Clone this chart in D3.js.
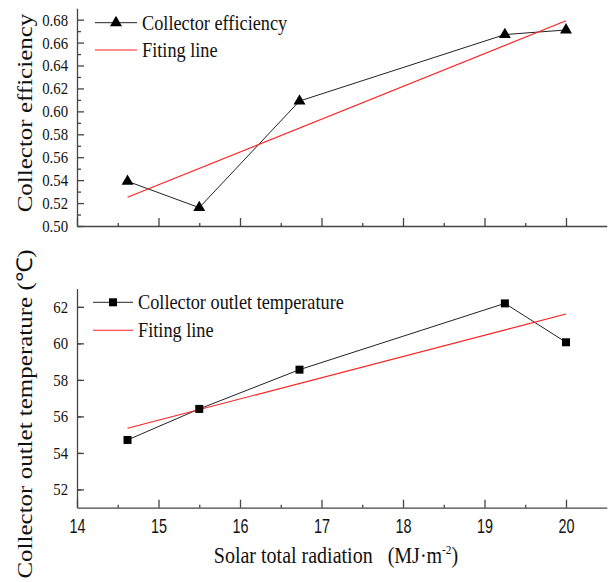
<!DOCTYPE html>
<html>
<head>
<meta charset="utf-8">
<script src="https://cdn.jsdelivr.net/npm/d3@7"></script>
<style>
  body { margin: 0; background: #fff; }
  svg { display: block; }
  .axis path, .axis line { stroke: #444; stroke-width: 1.3; }
  .serif { font-family: "Liberation Serif", "Times New Roman", serif; fill: #111; }
  .sans { font-family: "Liberation Sans", Arial, sans-serif; fill: #111; }
</style>
</head>
<body>
<div id="chart"></div>
<script>
// data
var radiation = [14.62, 15.50, 16.73, 19.25, 20.00];
var efficiency = [0.539, 0.516, 0.609, 0.667, 0.671];
var outletTemp = [54.71, 56.41, 58.56, 62.19, 60.06];
var fitX = [14.62, 20.00];
var effFit = [0.525, 0.679];
var tempFit = [55.35, 61.61];
var xTicks = [14, 15, 16, 17, 18, 19, 20];
var effTicks = [0.50, 0.52, 0.54, 0.56, 0.58, 0.60, 0.62, 0.64, 0.66, 0.68];
var tempTicks = [52, 54, 56, 58, 60, 62];

var W = 609, H = 582;
var sx = 0.87; // the original figure is squeezed horizontally

var svg = d3.select("#chart").append("svg")
  .attr("width", W)
  .attr("height", H);

var x = d3.scaleLinear().domain([14, 20.5]).range([77, 606.75]);
var yTop = d3.scaleLinear().domain([0.50, 0.69]).range([226, 8.2]);
var yBot = d3.scaleLinear().domain([51, 63]).range([507.7, 288.6]);

function halves(a, b, step) {
  var out = [];
  for (var v = a + step / 2; v < b; v += step) out.push(+v.toFixed(4));
  return out;
}

function drawPanel(y, yTicks, yMinorStep, yFmt, showXLabels) {
  var base = y.range()[0];

  // x axis major
  var gx = svg.append("g")
    .attr("class", "axis")
    .attr("transform", "translate(0," + base + ")")
    .call(d3.axisBottom(x).tickValues(xTicks).tickSize(-8).tickSizeOuter(0).tickPadding(11)
      .tickFormat(showXLabels ? d3.format("d") : ""));
  gx.selectAll("text")
    .attr("class", "sans")
    .attr("font-size", 20)
    .attr("x", 0)
    .attr("transform", "scale(0.72,1)");
  // x axis minor
  svg.append("g")
    .attr("class", "axis")
    .attr("transform", "translate(0," + base + ")")
    .call(d3.axisBottom(x).tickValues(halves(14, 20.5, 1)).tickSize(-3).tickSizeOuter(0).tickFormat(""))
    .select(".domain").remove();

  // y axis major
  var gy = svg.append("g")
    .attr("class", "axis")
    .attr("transform", "translate(" + x.range()[0] + ",0)")
    .call(d3.axisLeft(y).tickValues(yTicks).tickSize(-7).tickSizeOuter(0).tickPadding(10.3).tickFormat(yFmt));
  gy.selectAll("text")
    .attr("class", "serif")
    .attr("font-size", 17)
    .attr("transform", "scale(" + sx + ",1)");
  // y axis minor
  svg.append("g")
    .attr("class", "axis")
    .attr("transform", "translate(" + x.range()[0] + ",0)")
    .call(d3.axisLeft(y).tickValues(halves(y.domain()[0], y.domain()[1], yMinorStep)).tickSize(-4).tickSizeOuter(0).tickFormat(""))
    .select(".domain").remove();
}

drawPanel(yTop, effTicks, 0.02, d3.format(".2f"), false);
drawPanel(yBot, tempTicks, 2, d3.format("d"), true);

function series(y, vals, fitVals, symbol, symSize) {
  var pts = radiation.map(function(d, i) { return [d, vals[i]]; });
  var fit = fitX.map(function(d, i) { return [d, fitVals[i]]; });
  var line = d3.line()
    .x(function(d) { return x(d[0]); })
    .y(function(d) { return y(d[1]); });

  svg.append("path")
    .datum(pts)
    .attr("d", line)
    .attr("fill", "none")
    .attr("stroke", "#222")
    .attr("stroke-width", 1);

  svg.append("path")
    .datum(fit)
    .attr("d", line)
    .attr("fill", "none")
    .attr("stroke", "#ff2020")
    .attr("stroke-width", 1.1);

  svg.selectAll(null)
    .data(pts)
    .enter().append("path")
    .attr("d", d3.symbol().type(symbol).size(symSize))
    .attr("transform", function(d) { return "translate(" + x(d[0]) + "," + y(d[1]) + ")"; })
    .attr("fill", "#000");
}

series(yTop, efficiency, effFit, d3.symbolTriangle, 62);
series(yBot, outletTemp, tempFit, d3.symbolSquare, 64);

function legend(x0, x1, xt, yA, yB, label, symbol, symSize) {
  svg.append("line")
    .attr("x1", x0).attr("x2", x1).attr("y1", yA).attr("y2", yA)
    .attr("stroke", "#222").attr("stroke-width", 1);
  svg.append("path")
    .attr("d", d3.symbol().type(symbol).size(symSize))
    .attr("transform", "translate(" + ((x0 + x1) / 2) + "," + yA + ")")
    .attr("fill", "#000");
  svg.append("text")
    .attr("class", "serif")
    .attr("font-size", 21)
    .attr("transform", "translate(" + xt + "," + (yA + 7) + ") scale(" + sx + ",1)")
    .text(label);

  svg.append("line")
    .attr("x1", x0).attr("x2", x1).attr("y1", yB).attr("y2", yB)
    .attr("stroke", "#ff2020").attr("stroke-width", 1.1);
  svg.append("text")
    .attr("class", "serif")
    .attr("font-size", 21)
    .attr("transform", "translate(" + xt + "," + (yB + 7) + ") scale(" + sx + ",1)")
    .text("Fiting line");
}

legend(95, 137, 142, 22.7, 50, "Collector efficiency", d3.symbolTriangle, 62);
legend(93, 133, 138, 302.3, 330.3, "Collector outlet temperature", d3.symbolSquare, 64);

// axis titles
svg.append("text")
  .attr("class", "serif")
  .attr("font-size", 25)
  .attr("text-anchor", "middle")
  .attr("transform", "translate(31.5,113) scale(" + sx + ",1) rotate(-90)")
  .text("Collector efficiency");

svg.append("text")
  .attr("class", "serif")
  .attr("font-size", 25)
  .attr("text-anchor", "middle")
  .attr("transform", "translate(31.5,414) scale(" + sx + ",1) rotate(-90)")
  .text("Collector outlet temperature (\u2103)");

var xt = svg.append("text")
  .attr("class", "serif")
  .attr("font-size", 23)
  .attr("text-anchor", "middle")
  .attr("transform", "translate(336,563) scale(" + sx + ",1)")
  .style("white-space", "pre");
xt.append("tspan").text("Solar total radiation\u2002 (MJ\u00b7m");
xt.append("tspan").attr("font-size", 13).attr("dy", -9).text("-2");
xt.append("tspan").attr("dy", 9).text(")");
</script>
</body>
</html>
